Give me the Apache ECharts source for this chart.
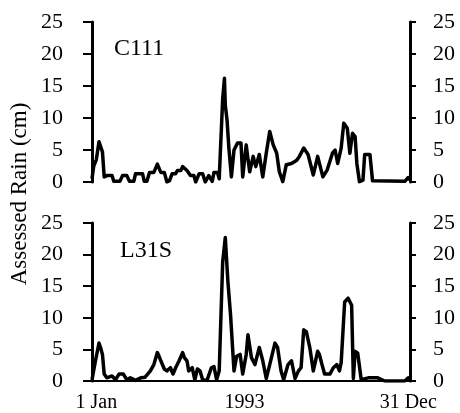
<!DOCTYPE html>
<html>
<head>
<meta charset="utf-8">
<script src="https://cdn.jsdelivr.net/npm/echarts@6/dist/echarts.min.js"></script>
<style>html,body{margin:0;padding:0;background:#fff}#c{width:460px;height:413px}</style>
</head>
<body>
<div id="c"></div>
<script>
// Day of year (0..365) and assessed rain (cm)
const c111Days = [0,2,5,8,10,12,14,17,23,25,32,35,40,43,48,50,58,60,63,66,71,75,79,83,86,89,92,96,98,102,104,109,113,117,119,123,127,130,134,138,140,144,146,150,152,153,155,157,160,163,167,171,173,177,178,181,185,188,192,196,200,204,208,212,215,219,223,229,235,238,243,248,254,259,265,270,276,279,282,286,289,293,296,299,302,304,307,311,313,319,322,359,363,365];
const c111Rain = [0.5,2.5,3.5,6.3,5.5,4.7,0.8,1.0,1.0,0.1,0.1,1.0,1.0,0.1,0.1,1.3,1.3,0.1,0.1,1.5,1.5,2.8,1.5,1.5,0,0.2,1.3,1.3,1.8,1.8,2.4,1.8,1.0,1.0,0,1.3,1.3,0,1.0,0.1,1.5,1.5,0.5,13,16.2,12,9.7,5.5,0.8,5.0,6.1,6.1,0.8,5.8,4.7,1.6,4.0,2.4,4.3,0.8,4.5,7.9,5.8,4.5,1.6,0.05,2.7,2.9,3.4,4.0,5.3,4.3,1.1,4.0,0.8,1.9,4.5,5.0,2.9,5.3,9.2,8.4,4.5,7.6,7.1,2.9,0.05,0.3,4.3,4.3,0.2,0.1,0.7,0.3];

const l31sDays = [0,4,8,10,12,14,17,23,27,31,36,40,44,50,56,61,67,71,75,77,79,83,86,90,93,96,100,104,106,109,111,115,118,121,124,127,132,137,140,143,146,150,153,156,159,163,166,170,173,177,179,183,187,192,196,200,204,210,213,217,220,225,229,233,237,240,243,246,250,254,259,261,264,267,273,277,281,284,286,290,294,298,300,302,305,309,317,328,336,359,363,365];
const l31sRain = [0.2,3.2,6.0,5.2,4.2,1.1,0.5,0.8,0.2,1.1,1.1,0.2,0.5,0.1,0.5,0.6,1.6,2.6,4.5,3.9,3.2,1.9,1.6,2.1,1.1,2.1,3.2,4.5,3.7,3.2,1.6,2.1,0.2,1.9,1.6,0.2,0.1,2.1,2.3,0.2,1.6,18.8,22.7,15.7,10.5,1.6,3.9,4.2,1.1,4.2,7.3,3.7,2.6,5.3,3.2,0.4,2.6,6.0,5.3,1.6,0.2,2.6,3.2,0.4,1.6,2.1,8.1,7.8,5.3,1.6,4.7,4.2,2.6,1.1,1.1,2.1,2.6,1.6,2.9,12.5,13.1,12.0,0.4,4.7,4.4,0.2,0.5,0.5,0,0,0.5,0.1];

const panelNames = ['C111', 'L31S'];
const xTickDays = [5, 175, 363];
const xTickLabels = ['1 Jan', '1993', '31 Dec'];
const yMin = 0, yMax = 25, yStep = 5;
const yTitle = 'Assessed Rain (cm)';

const FONT = 'Liberation Serif';
const toPairs = (d, v) => d.map((x, i) => [x, v[i]]);

function yAxis(grid, pos, margin) {
  return {
    gridIndex: grid, type: 'value', position: pos, min: yMin, max: yMax, interval: yStep,
    axisLine: { show: true, lineStyle: { color: '#000', width: 3 } },
    axisTick: { show: true, inside: false, length: pos === 'left' ? 9 : 6, lineStyle: { color: '#000', width: 2 } },
    axisLabel: { show: true, margin: margin, color: '#000', fontFamily: FONT, fontSize: 22 },
    splitLine: { show: false }
  };
}
function xAxis(grid, withLabels) {
  return {
    gridIndex: grid, type: 'value', min: 0, max: 365,
    axisLine: { show: withLabels, onZero: false, lineStyle: { color: '#000', width: 2 } },
    axisTick: { show: false },
    axisLabel: withLabels ? {
      show: true, customValues: xTickDays, margin: 12, color: '#000', fontFamily: FONT, fontSize: 20,
      formatter: (v) => { const i = xTickDays.indexOf(v); return i >= 0 ? xTickLabels[i] : ''; }
    } : { show: false },
    splitLine: { show: false }
  };
}
const lineStyle = { color: '#000', width: 3.5, join: 'round' };

const chart = echarts.init(document.getElementById('c'));
chart.setOption({
  animation: false,
  backgroundColor: '#fff',
  grid: [
    { left: 92, right: 50, top: 22, height: 160 },
    { left: 92, right: 50, top: 223, height: 160 }
  ],
  xAxis: [xAxis(0, false), xAxis(1, true)],
  yAxis: [yAxis(0, 'left', 29), yAxis(0, 'right', 23), yAxis(1, 'left', 29), yAxis(1, 'right', 23)],
  series: [
    { type: 'line', xAxisIndex: 0, yAxisIndex: 0, data: toPairs(c111Days, c111Rain), showSymbol: false, lineStyle: lineStyle, z: 3 },
    { type: 'line', xAxisIndex: 1, yAxisIndex: 2, data: toPairs(l31sDays, l31sRain), showSymbol: false, lineStyle: lineStyle, z: 3 }
  ],
  graphic: [
    { type: 'text', left: 114, top: 37, style: { text: panelNames[0], font: '24px "Liberation Serif"', fill: '#000' } },
    { type: 'text', left: 120, top: 239, style: { text: panelNames[1], font: '24px "Liberation Serif"', fill: '#000' } },
    { type: 'text', x: 20, y: 194, rotation: Math.PI / 2,
      style: { text: yTitle, font: '23px "Liberation Serif"', fill: '#000', align: 'center', verticalAlign: 'middle' } }
  ]
});
</script>
</body>
</html>
